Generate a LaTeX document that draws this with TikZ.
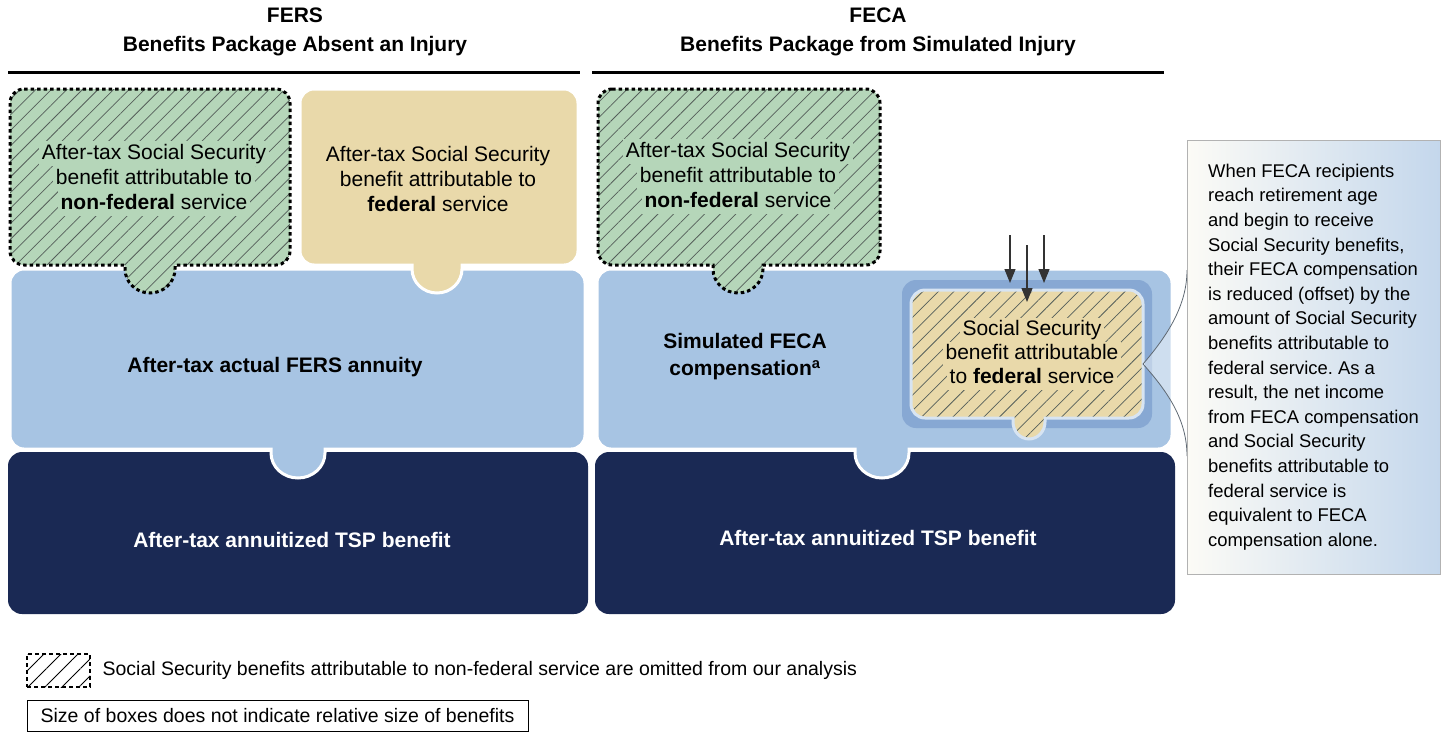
\documentclass[tikz,border=0pt]{standalone}
\usepackage{fontspec}
\setmainfont{Liberation Sans}
\usetikzlibrary{positioning,arrows.meta,patterns.meta}

\definecolor{ssgreen}{RGB}{181,214,185}
\definecolor{sstan}{RGB}{233,217,170}
\definecolor{lightblue}{RGB}{167,196,227}
\definecolor{frameblue}{RGB}{135,168,211}
\definecolor{navy}{RGB}{26,41,84}
\definecolor{hatchgray}{RGB}{85,95,90}
\definecolor{noteleft}{RGB}{252,251,246}
\definecolor{noteright}{RGB}{196,215,236}
\definecolor{curvegray}{RGB}{95,105,115}

% one line of text with the box colour behind it, to clear the hatching
\newcommand{\greenline}[1]{{\fboxsep=0pt\colorbox{ssgreen}{\rule[-6.5pt]{0pt}{25pt}\hspace{3pt}#1\hspace{3pt}}}}
\newcommand{\tanline}[1]{{\fboxsep=0pt\colorbox{sstan}{\rule[-6.5pt]{0pt}{24pt}\hspace{3pt}#1\hspace{3pt}}}}

% box with a round tab under it
% #1,#2 top left, #3,#4 bottom right, #5 tab centre, #6 tab half width, #7 tab round part
\newcommand{\tabpath}[7]{%
  (#1+14,#2) -- (#3-14,#2) arc[start angle=-90,end angle=0,radius=14]
  -- (#3,#4-14) arc[start angle=0,end angle=90,radius=14]
  -- (#5+#6,#4) -- (#5+#6,#4+4)
  arc[start angle=0,end angle=180,x radius=#6,y radius=#7]
  -- (#5-#6,#4) -- (#1+14,#4) arc[start angle=90,end angle=180,radius=14]
  -- (#1,#2+14) arc[start angle=180,end angle=270,radius=14] -- cycle}

\begin{document}
\frenchspacing
\begin{tikzpicture}[x=1pt,y=-1pt,
    navybox/.style={fill=navy,rounded corners=14pt},
    bluebox/.style={fill=lightblue,draw=white,line width=3pt},
    tanbox/.style={fill=sstan,draw=white,line width=3pt},
    hatched/.style={pattern={Lines[angle=45,distance=11pt,line width=0.75pt]},pattern color=hatchgray},
    greenbox/.style={preaction={fill=ssgreen},hatched,
      postaction={draw=black,line width=3pt,dash pattern=on 3.5pt off 3pt}},
    header/.style={font=\fontsize{21}{29}\selectfont\bfseries,align=center,inner sep=0pt},
    boxtext/.style={font=\fontsize{21}{25}\selectfont,align=center,inner sep=0pt},
    whitetext/.style={boxtext,text=white,font=\fontsize{21}{25}\selectfont\bfseries},
    notebox/.style={draw=gray!60,line width=0.8pt,left color=noteleft,right color=noteright,
      minimum width=253pt,minimum height=434pt,align=left,inner sep=0pt,
      font=\fontsize{18.4}{24.6}\selectfont},
    downarrow/.style={draw=black!80,line width=1.3pt,-{Triangle[length=14pt,width=11pt]}},
    pointer/.style={draw=curvegray,line width=0.8pt},
    keybox/.style={pattern={Lines[angle=45,distance=12pt,line width=0.8pt]},pattern color=black,
      postaction={draw=black,line width=1.8pt,dash pattern=on 4pt off 3pt},
      minimum width=63pt,minimum height=33pt,inner sep=0pt},
    smalltext/.style={font=\fontsize{19.5}{23}\selectfont,inner sep=0pt}]
  \useasboundingbox (0,0) rectangle (1444,732);

  % headings
  \node[header] (fers) at (295,32) {FERS\\Benefits Package Absent an Injury};
  \node[header] (feca) at (878,32) {FECA\\Benefits Package from Simulated Injury};
  \draw[line width=3pt] (8,72) -- (580,72);
  \draw[line width=3pt] (592,72) -- (1164,72);

  % TSP boxes
  \fill[navybox] (8,452) rectangle (588,614);
  \fill[navybox] (595,452) rectangle (1175,614);

  % annuity and FECA boxes
  \path[bluebox] \tabpath{10}{269}{585}{449}{298}{27}{25};
  \path[bluebox] \tabpath{597}{269}{1172}{449}{882}{27}{25};

  % Social Security boxes
  \path[greenbox] \tabpath{10}{89}{290}{265}{150}{25}{24};
  \path[tanbox] \tabpath{300}{89}{578}{265}{437}{25}{24};
  \path[greenbox] \tabpath{598}{89}{880}{265}{738}{25}{24};

  % offset box inside FECA
  \fill[frameblue,rounded corners=14pt] (902,280) rectangle (1152,428);
  \path[preaction={fill=sstan},hatched,postaction={draw=white!55!lightblue,line width=3pt}]
    \tabpath{911}{290}{1143}{418}{1029}{16}{17};

  % texts
  \node[boxtext] (fersnf) at (154,178)
    {\greenline{After-tax Social Security}\\\greenline{benefit attributable to}\\\greenline{\textbf{non-federal} service}};
  \node[boxtext] (fersf) at (438,179)
    {After-tax Social Security\\benefit attributable to\\\textbf{federal} service};
  \node[boxtext] (fecanf) at (738,176)
    {\greenline{After-tax Social Security}\\\greenline{benefit attributable to}\\\greenline{\textbf{non-federal} service}};
  \node[boxtext,font=\fontsize{21}{25}\selectfont\bfseries] (annuity) at (275,367) {After-tax actual FERS annuity};
  \node[boxtext,font=\fontsize{21}{27}\selectfont\bfseries] (comp) at (745,357) {Simulated FECA\\compensation\textsuperscript{a}};
  \node[boxtext,font=\fontsize{21}{24}\selectfont] (offset) at (1032,354)
    {\tanline{Social Security}\\\tanline{benefit attributable}\\\tanline{to \textbf{federal} service}};
  \node[whitetext] (tspl) at (292,540) {After-tax annuitized TSP benefit};
  \node[whitetext] (tspr) at (878,538) {After-tax annuitized TSP benefit};

  % arrows onto the offset box
  \coordinate (a1s) at (1010,235); \coordinate (a1e) at (1010,283);
  \coordinate (a2s) at (1027,245); \coordinate (a2e) at (1027,302);
  \coordinate (a3s) at (1044,235); \coordinate (a3e) at (1044,283);
  \draw[downarrow] (a1s) -- (a1e);
  \draw[downarrow] (a2s) -- (a2e);
  \draw[downarrow] (a3s) -- (a3e);

  % call-out
  \coordinate (tip) at (1143,364);
  \coordinate (ptop) at (1187,270);
  \coordinate (pbot) at (1187,456);
  \fill[white,opacity=0.45] (tip) .. controls (1168,335) and (1187,305) .. (ptop)
    -- (pbot) .. controls (1187,420) and (1168,392) .. (tip);
  \draw[pointer] (tip) .. controls (1168,335) and (1187,305) .. (ptop);
  \draw[pointer] (tip) .. controls (1168,392) and (1187,420) .. (pbot);
  \node[notebox] (note) at (1313.5,357) {When FECA recipients\\reach retirement age\\and begin to receive\\Social Security benefits,\\their FECA compensation\\is reduced (offset) by the\\amount of Social Security\\benefits attributable to\\federal service. As a\\result, the net income\\from FECA compensation\\and Social Security\\benefits attributable to\\federal service is\\equivalent to FECA\\compensation alone.};

  % key
  \node[keybox] (key) at (58.5,670.5) {};
  \node[smalltext, right=12pt of key] (keytext) {Social Security benefits attributable to non-federal service are omitted from our analysis};
  \node[smalltext,draw=black,line width=1pt,minimum width=501pt,minimum height=31pt] (size) at (277.5,715.5)
    {Size of boxes does not indicate relative size of benefits};
\end{tikzpicture}
\end{document}
